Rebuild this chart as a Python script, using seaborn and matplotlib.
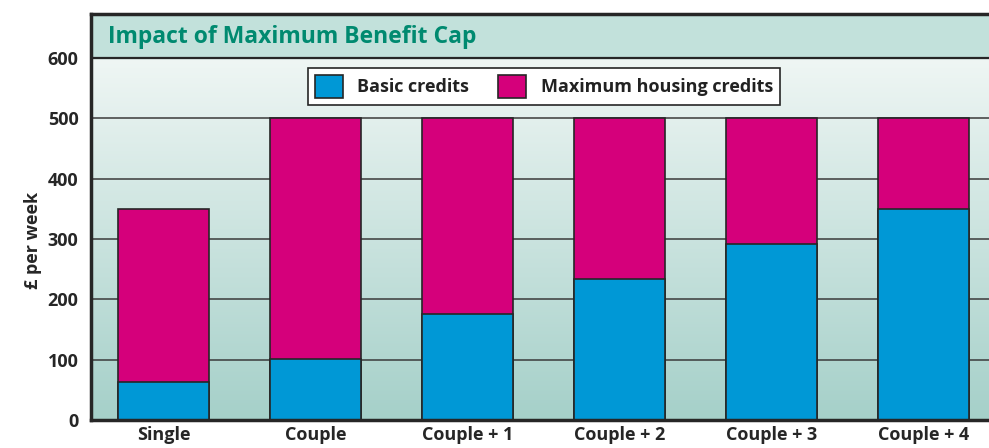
import numpy as np
import pandas as pd
import matplotlib
matplotlib.use('Agg')
import matplotlib.pyplot as plt
import seaborn as sns
from matplotlib.colors import LinearSegmentedColormap
from matplotlib.patches import Patch

households = ['Single', 'Couple', 'Couple + 1', 'Couple + 2', 'Couple + 3', 'Couple + 4']
basic_credits = [63, 101, 176, 234, 292, 350]
max_housing_credits = [287, 399, 324, 266, 208, 150]
yticks = [0, 100, 200, 300, 400, 500, 600]

totals = [b + h for b, h in zip(basic_credits, max_housing_credits)]
df = pd.DataFrame({'household': households, 'basic': basic_credits, 'total': totals})

blue = '#0098d6'
magenta = '#d5007b'
edge = '#262626'

sns.set_theme(style='white')
plt.rcParams['font.family'] = ['Open Sans', 'DejaVu Sans']
plt.rcParams['font.weight'] = 'bold'
plt.rcParams['text.color'] = '#222222'

fig = plt.figure(figsize=(9.89, 4.48), dpi=100)
ax = fig.add_axes([91/989, 28/448, (1030-91)/989, 406/448])

x0, x1 = -0.477, 5.7
# gradient background of the plotting area
cmap = LinearSegmentedColormap.from_list('bg', ['#a5d0c9', '#eff6f4'])
grad = np.linspace(0, 1, 256).reshape(-1, 1)
ax.imshow(grad, cmap=cmap, aspect='auto', origin='lower',
          extent=(x0, x1, 0, 600), zorder=0)
ax.axhspan(600, 673, color='#c2e1db', zorder=0)

for v in yticks[1:-1]:
    ax.axhline(v, color='#3a3a3a', lw=1.1, zorder=1)
ax.axhline(600, color=edge, lw=1.6, zorder=2)

sns.barplot(data=df, x='household', y='total', color=magenta, saturation=1,
            edgecolor=edge, linewidth=1.2, width=0.6, ax=ax, zorder=3)
sns.barplot(data=df, x='household', y='basic', color=blue, saturation=1,
            edgecolor=edge, linewidth=1.2, width=0.6, ax=ax, zorder=4)

ax.set_xlim(x0, x1)
ax.set_ylim(0, 673)
ax.set_yticks(yticks)
ax.set_yticklabels([str(v) for v in yticks], fontsize=13, fontweight='bold')
ax.set_xticks(range(len(households)))
ax.set_xticklabels(households, fontsize=13, fontweight='bold')
ax.tick_params(axis='both', length=0)
ax.tick_params(axis='y', pad=9)
ax.tick_params(axis='x', pad=4)
ax.set_xlabel('')
ax.set_ylabel('£ per week', fontsize=13, fontweight='bold', labelpad=4)
ax.yaxis.label.set_y(0.443)

for s in ['left', 'top', 'bottom']:
    ax.spines[s].set_color(edge)
    ax.spines[s].set_linewidth(2.5)
    ax.spines[s].set_zorder(6)
ax.spines['right'].set_visible(False)

fig.text(108/989, 1 - 37/448, 'Impact of Maximum Benefit Cap',
         fontsize=16.5, fontweight='bold', color='#008a70', va='center', ha='left')

handles = [Patch(facecolor=blue, edgecolor=edge, lw=1.2),
           Patch(facecolor=magenta, edgecolor=edge, lw=1.2)]
leg = ax.legend(handles, ['Basic credits', 'Maximum housing credits'], ncol=2,
                loc='upper center', bbox_to_anchor=((544 - 91) / (1030 - 91), 0.867),
                frameon=True, fancybox=False, edgecolor=edge, framealpha=1, fontsize=13,
                handlelength=1.55, handleheight=1.55, handletextpad=0.8,
                columnspacing=1.6, borderpad=0.4, borderaxespad=0)
leg.get_frame().set_linewidth(1.2)
leg.set_zorder(7)

fig.savefig('out.png', dpi=100)
